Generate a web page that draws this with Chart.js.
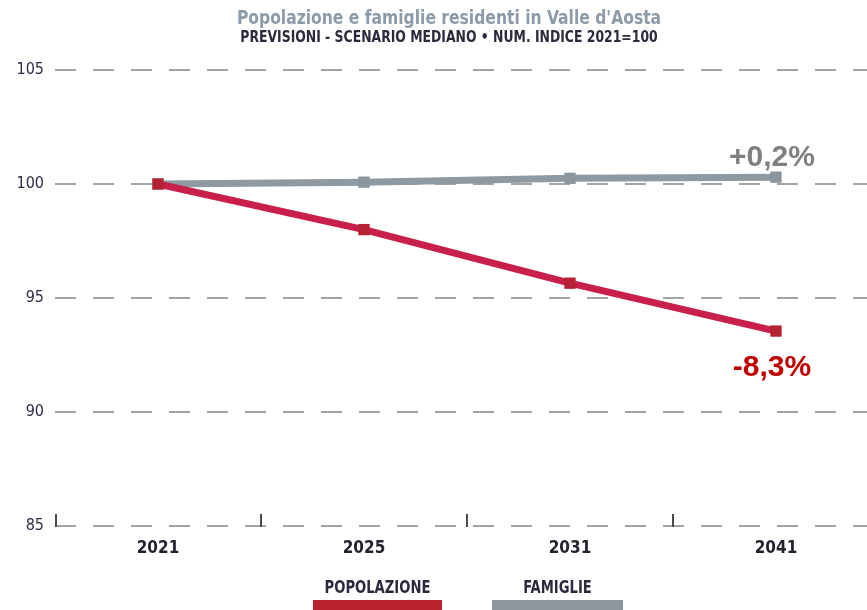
<!DOCTYPE html>
<html>
<head>
<meta charset="utf-8">
<script src="https://cdn.jsdelivr.net/npm/chart.js@4/dist/chart.umd.min.js"></script>
<style>
  html, body { margin: 0; padding: 0; background: #fff; overflow: hidden; width: 867px; height: 610px; }
  #wrap { position: relative; width: 900px; height: 610px; }
  canvas { position: absolute; left: 0; top: 0; }
  .narrow { font-family: "Liberation Sans Narrow", "DejaVu Sans Condensed", "Roboto Condensed", sans-serif; font-stretch: condensed; }
  #title { position: absolute; left: 0; width: 898px; top: 6px; text-align: center; color: #8d9ba8; font-weight: bold; font-size: 20px; line-height: 22px; transform: scaleX(0.865); transform-origin: 449px 0; }
  #subtitle { position: absolute; left: 0; width: 898px; top: 29px; text-align: center; color: #2a2a3c; font-weight: bold; font-size: 15px; line-height: 16px; transform: scaleX(0.92); transform-origin: 449px 0; }
  .leg { position: absolute; top: 578px; text-align: center; color: #2a2a3c; font-weight: bold; font-size: 17px; line-height: 18px; transform: scaleX(0.86); }
  .bar { position: absolute; top: 600px; height: 12px; }
</style>
</head>
<body>
<div id="wrap">
  <canvas id="c" width="887" height="610"></canvas>
  <div id="title" class="narrow">Popolazione e famiglie residenti in Valle d'Aosta</div>
  <div id="subtitle" class="narrow">PREVISIONI - SCENARIO MEDIANO • NUM. INDICE 2021=100</div>
  <div class="leg narrow" style="left:313px;width:129px;">POPOLAZIONE</div>
  <div class="bar" style="left:313px;width:129px;background:#b8232f;"></div>
  <div class="leg narrow" style="left:492px;width:131px;">FAMIGLIE</div>
  <div class="bar" style="left:492px;width:131px;background:#8c979e;"></div>
</div>
<script>
const years = ["2021", "2025", "2031", "2041"];
const popolazione = [100, 98.0, 95.65, 93.55];
const famiglie = [100, 100.08, 100.25, 100.3];
const yTicks = [85, 90, 95, 100, 105];
const endLabels = ["-8,3%", "+0,2%"];

const NARROW = '"Liberation Sans Narrow", "DejaVu Sans Condensed", "Roboto Condensed", sans-serif';

const extras = {
  id: 'extras',
  afterDatasetsDraw(chart) {
    const ctx = chart.ctx;
    const area = chart.chartArea;
    const n = years.length;
    const step = (area.right - area.left) / n;
    ctx.save();
    ctx.strokeStyle = '#4a4a4a';
    ctx.lineWidth = 2;
    for (let i = 0; i < n; i++) {
      const x = Math.round(area.left + i * step) + (i === 0 ? 1 : 0);
      ctx.beginPath();
      ctx.moveTo(x, area.bottom - 12);
      ctx.lineTo(x, area.bottom + 1);
      ctx.stroke();
    }
    ctx.font = 'bold 30px "Liberation Sans", Arial, sans-serif';
    ctx.textAlign = 'center';
    ctx.textBaseline = 'alphabetic';
    const pp = chart.getDatasetMeta(0).data[n - 1];
    const fp = chart.getDatasetMeta(1).data[n - 1];
    ctx.fillStyle = '#c00000';
    ctx.fillText(endLabels[0], pp.x - 4, pp.y + 45);
    ctx.fillStyle = '#808080';
    ctx.fillText(endLabels[1], fp.x - 4, fp.y - 11);
    ctx.restore();
  }
};

new Chart(document.getElementById('c'), {
  type: 'line',
  data: {
    labels: years,
    datasets: [
      {
        label: 'POPOLAZIONE',
        data: popolazione,
        borderColor: '#c8204a',
        backgroundColor: '#b52233',
        pointBackgroundColor: '#b52233',
        pointBorderColor: '#b52233',
        borderWidth: 7,
        pointStyle: 'rect',
        pointRadius: 8,
        pointBorderWidth: 0,
        order: 0,
        tension: 0
      },
      {
        label: 'FAMIGLIE',
        data: famiglie,
        borderColor: '#8e99a1',
        backgroundColor: '#8a959d',
        pointBackgroundColor: '#8a959d',
        pointBorderColor: '#8a959d',
        borderWidth: 7,
        pointStyle: 'rect',
        pointRadius: 8,
        pointBorderWidth: 0,
        order: 1,
        tension: 0
      }
    ]
  },
  options: {
    responsive: false,
    animation: false,
    devicePixelRatio: 1,
    layout: { padding: { top: 70, right: 0, left: 0, bottom: 0 } },
    plugins: {
      legend: { display: false },
      title: { display: false },
      tooltip: { enabled: false }
    },
    scales: {
      x: {
        type: 'category',
        offset: true,
        grid: { display: false, drawTicks: false },
        border: { display: false },
        ticks: {
          color: '#23232f',
          padding: 12,
          font: { family: NARROW, size: 17, weight: 'bold' }
        },
        afterFit(scale) { scale.height = 84; }
      },
      y: {
        min: 85,
        max: 105,
        afterBuildTicks(scale) { scale.ticks = yTicks.map(v => ({ value: v })); },
        grid: {
          color: '#a3a3a3',
          lineWidth: 2,
          drawTicks: false
        },
        border: { display: false, dash: [21, 17] },
        ticks: {
          color: '#2d2d48',
          padding: 11,
          font: { family: NARROW, size: 16 },
          callback: (v) => String(v)
        },
        afterFit(scale) { scale.width = 55; }
      }
    }
  },
  plugins: [extras]
});
</script>
</body>
</html>
